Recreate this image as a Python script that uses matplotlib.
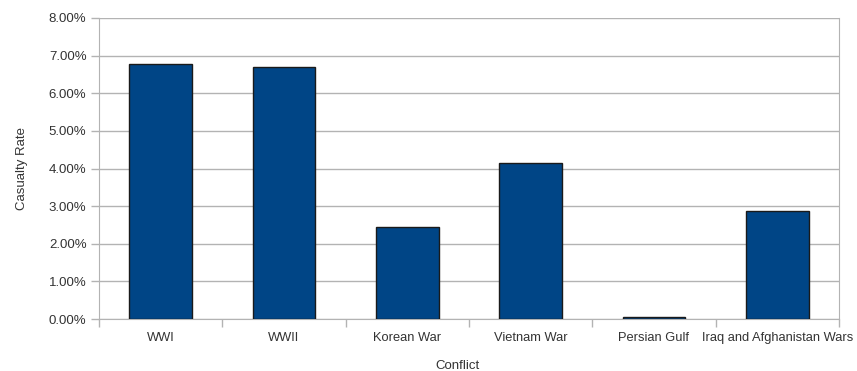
import matplotlib
matplotlib.use("Agg")
import matplotlib.pyplot as plt
from matplotlib.ticker import FuncFormatter, FixedLocator

conflicts = ["WWI", "WWII", "Korean War", "Vietnam War", "Persian Gulf",
             "Iraq and Afghanistan Wars"]
casualty_rate = [6.79, 6.70, 2.45, 4.15, 0.05, 2.88]  # percent

plt.rcParams["font.family"] = ["Liberation Sans", "DejaVu Sans"]

grid_c = "#b3b3b3"
text_c = "#333333"

fig = plt.figure(figsize=(8.57, 3.71), dpi=100)
ax = fig.add_axes([0.1155, 0.140, 0.8635, 0.8115])

x = range(len(conflicts))
ax.bar(x, casualty_rate, width=0.51, color="#004586", edgecolor="#1a1a1a",
       linewidth=1.0, zorder=3)

ax.set_ylim(0, 8)
ax.set_xlim(-0.5, len(conflicts) - 0.5)
ax.set_yticks(range(0, 9))
ax.yaxis.set_major_formatter(FuncFormatter(lambda v, p: f"{v:.2f}%"))
ax.grid(axis="y", color=grid_c, linewidth=1.0, zorder=0)

ax.set_xticks(list(x))
ax.set_xticklabels(conflicts)
ax.xaxis.set_minor_locator(FixedLocator([i - 0.5 for i in range(len(conflicts) + 1)]))
ax.tick_params(axis="x", which="major", length=0, pad=9, labelsize=9.3, labelcolor=text_c)
ax.tick_params(axis="x", which="minor", length=6, color=grid_c, width=1)
ax.tick_params(axis="y", length=6, color=grid_c, width=1, labelsize=9.5, labelcolor=text_c, pad=3)

for s in ["left", "right"]:
    ax.spines[s].set_color(grid_c)
ax.spines["top"].set_visible(False)
ax.spines["bottom"].set_color(grid_c)

ax.set_xlabel("Conflict", fontsize=9.5, color=text_c, labelpad=12, x=0.485)
ax.set_ylabel("Casualty Rate", fontsize=9.5, color=text_c, labelpad=15)

fig.savefig("out.png", dpi=100)
